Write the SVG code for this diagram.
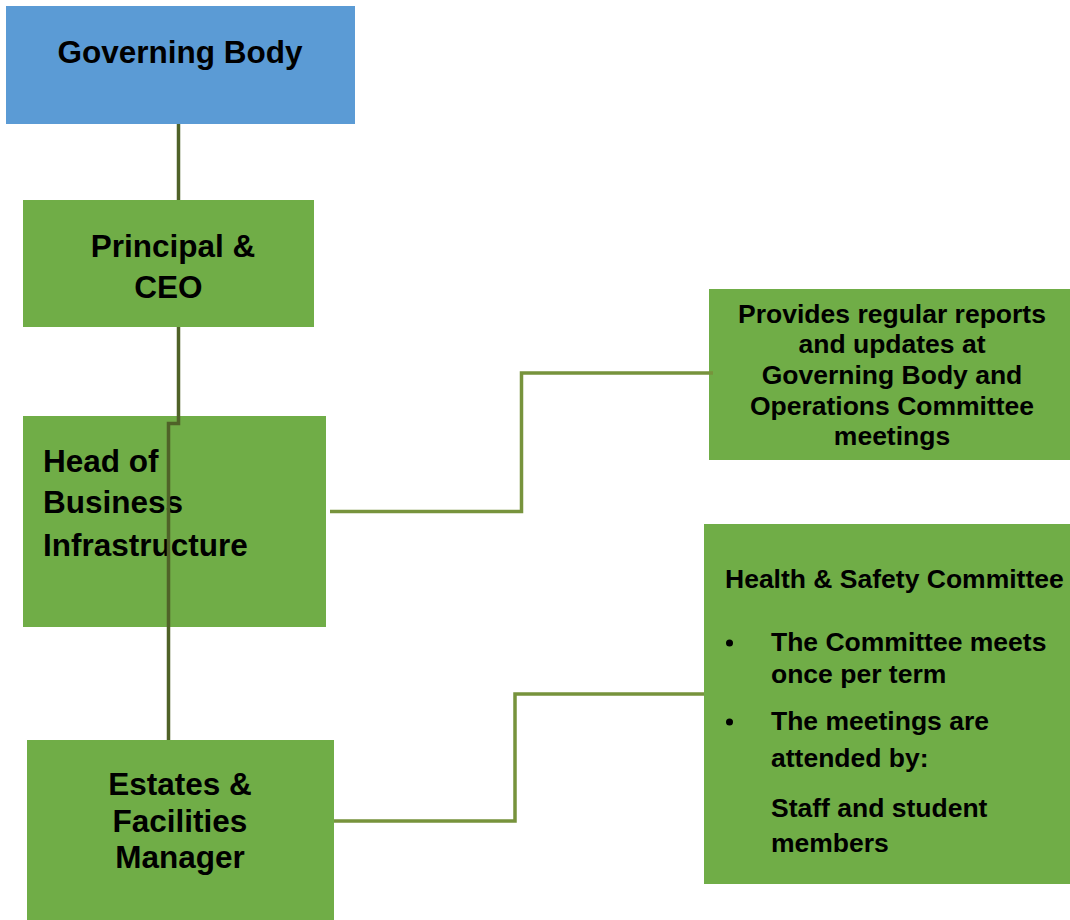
<svg xmlns="http://www.w3.org/2000/svg" width="1070" height="920" viewBox="0 0 1070 920">
<style>
.t{font-family:"Liberation Sans",Arial,sans-serif;font-weight:bold;fill:#000}
.big{font-size:31.5px}
.sm{font-size:26.5px}
.mid{text-anchor:middle}
.blue{fill:#5B9BD5}
.green{fill:#70AD47}
.c1{fill:none;stroke:#4F6228;stroke-width:3.5}
.c2{fill:none;stroke:#77933C;stroke-width:3.5}
</style>
<rect width="1070" height="920" fill="#fff"/>
<g id="governing-body">
<rect class="blue" x="6" y="6" width="349" height="118"/>
<text class="t big mid" x="180" y="63">Governing Body</text>
</g>
<g id="principal-ceo">
<rect class="green" x="23" y="200" width="291" height="127"/>
<text class="t big mid" x="173" y="257">Principal &amp;</text>
<text class="t big mid" x="168.5" y="298">CEO</text>
</g>
<g id="head-of-business-infrastructure">
<rect class="green" x="23" y="416" width="303" height="211"/>
<text class="t big" x="43" y="472">Head of</text>
<text class="t big" x="43" y="513">Business</text>
<text class="t big" x="43" y="556">Infrastructure</text>
</g>
<g id="estates-facilities-manager">
<rect class="green" x="27" y="740" width="307" height="180"/>
<text class="t big mid" x="180" y="795">Estates &amp;</text>
<text class="t big mid" x="180" y="832">Facilities</text>
<text class="t big mid" x="180" y="868">Manager</text>
</g>
<g id="reports-box">
<rect class="green" x="709" y="289" width="361" height="171"/>
<text class="t sm mid" x="892" y="323">Provides regular reports</text>
<text class="t sm mid" x="892" y="353">and updates at</text>
<text class="t sm mid" x="892" y="384">Governing Body and</text>
<text class="t sm mid" x="892" y="415">Operations Committee</text>
<text class="t sm mid" x="892" y="445">meetings</text>
</g>
<g id="health-safety-committee">
<rect class="green" x="704" y="524" width="366" height="360"/>
<text class="t sm" x="725" y="588">Health &amp; Safety Committee</text>
<circle cx="729.5" cy="643" r="3.5" fill="#000"/>
<text class="t sm" x="771" y="651">The Committee meets</text>
<text class="t sm" x="771" y="683">once per term</text>
<circle cx="729.5" cy="722" r="3.5" fill="#000"/>
<text class="t sm" x="771" y="730">The meetings are</text>
<text class="t sm" x="771" y="767">attended by:</text>
<text class="t sm" x="771" y="817">Staff and student</text>
<text class="t sm" x="771" y="852">members</text>
</g>
<g id="connectors">
<path class="c1" d="M178.5 124 V200"/>
<path class="c1" d="M178.5 327 V423.5 H168.5 V740"/>
<path class="c2" d="M330 511.5 H521.5 V373 H713"/>
<path class="c2" d="M334 821 H515 V694 H704"/>
</g>
</svg>
